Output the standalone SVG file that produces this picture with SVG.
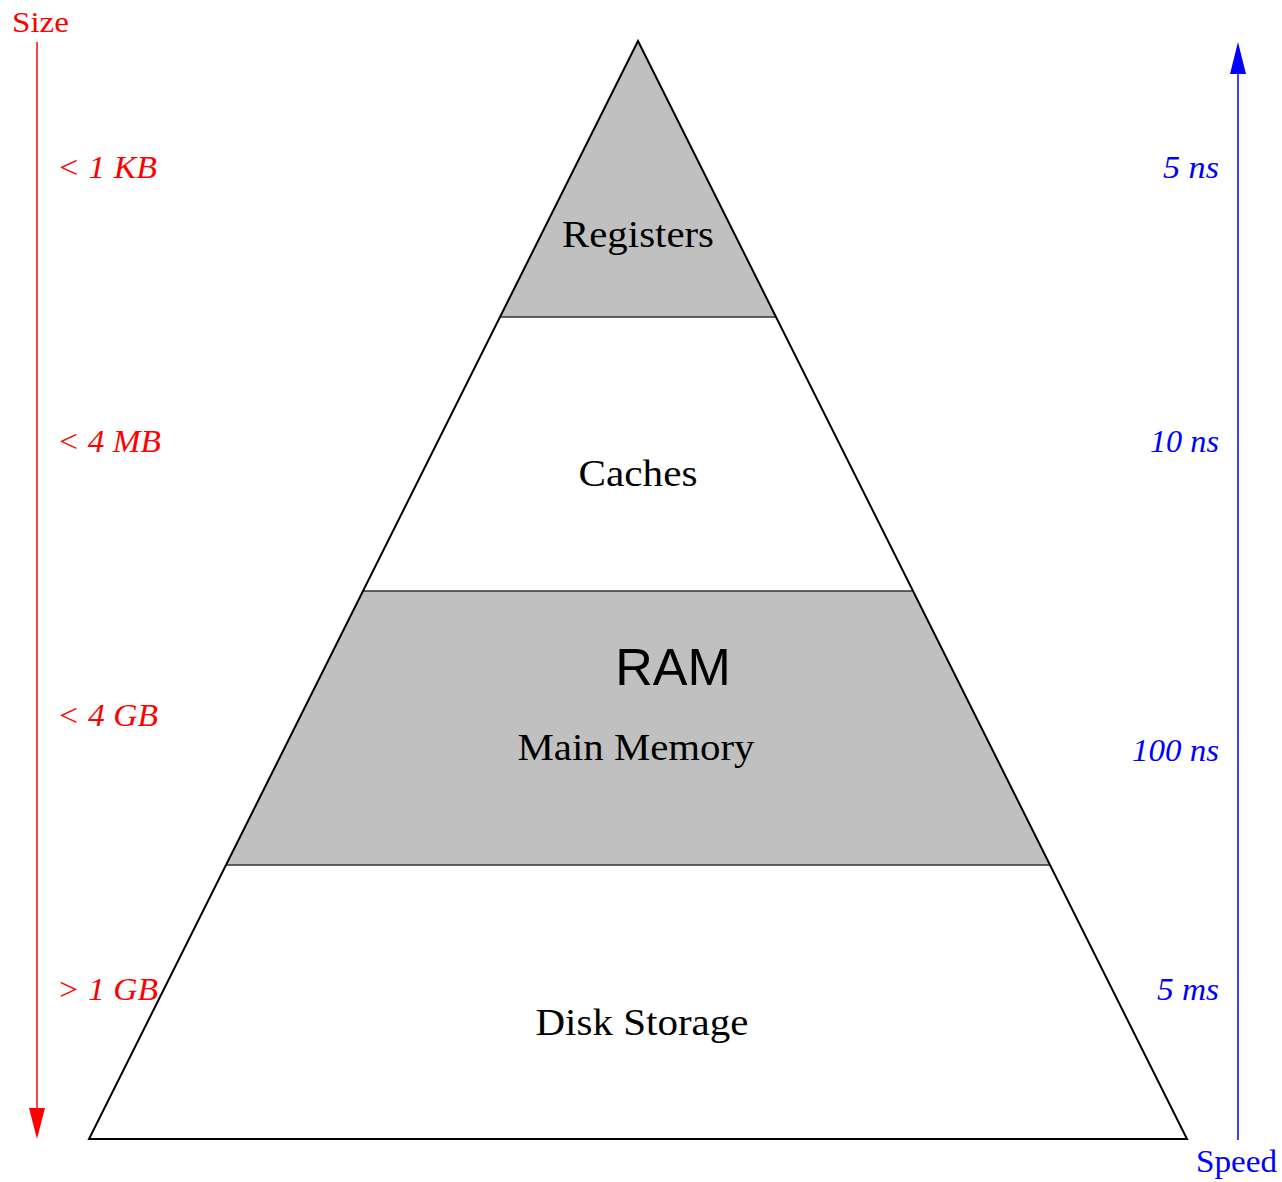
<svg xmlns="http://www.w3.org/2000/svg" width="1282" height="1182" viewBox="0 0 1282 1182">
<style>
.lbl{font-family:"Liberation Serif","DejaVu Serif",serif;font-size:37px;fill:#000;text-anchor:middle}
.sz{font-family:"Liberation Serif",serif;font-style:italic;font-size:31px;fill:#ff0000}
.sp{font-family:"Liberation Serif",serif;font-style:italic;font-size:31px;fill:#0000ff;text-anchor:end}
.edge{fill:none;stroke:#000;stroke-width:2}
.band{stroke:#333;stroke-width:1.5}
</style>
<rect width="1282" height="1182" fill="#fff"/>
<g id="registers">
<polygon points="638,41 776,317 500,317" fill="#c0c0c0"/>
<text class="lbl" x="638" y="247" textLength="152" lengthAdjust="spacingAndGlyphs">Registers</text>
</g>
<g id="caches">
<polygon points="500,317 776,317 913,591 363,591" fill="#fff"/>
<text class="lbl" x="638" y="486" textLength="119" lengthAdjust="spacingAndGlyphs">Caches</text>
</g>
<g id="main-memory">
<polygon points="363,591 913,591 1050,865 226,865" fill="#c0c0c0"/>
<text x="673" y="685" font-family="Liberation Sans,Arial,sans-serif" font-size="52" text-anchor="middle" fill="#000">RAM</text>
<text class="lbl" x="636" y="760" textLength="237" lengthAdjust="spacingAndGlyphs">Main Memory</text>
</g>
<g id="disk-storage">
<polygon points="226,865 1050,865 1187,1139 89,1139" fill="#fff"/>
<text class="lbl" x="642" y="1035" textLength="213" lengthAdjust="spacingAndGlyphs">Disk Storage</text>
</g>
<g id="pyramid-lines">
<line class="band" x1="500" y1="317" x2="776" y2="317"/>
<line class="band" x1="363" y1="591" x2="913" y2="591"/>
<line class="band" x1="226" y1="865" x2="1050" y2="865"/>
<polygon class="edge" points="638,41 1187,1139 89,1139"/>
</g>
<g id="connectors">
<line x1="37" y1="42" x2="37" y2="1109" stroke="#ff0000" stroke-width="1.5"/>
<path d="M29,1108 L45,1108 L37,1139 Z" fill="#ff0000"/>
<line x1="1238" y1="1140" x2="1238" y2="73" stroke="#0000ff" stroke-width="1.5"/>
<path d="M1238,42 L1246,74 L1230,74 Z" fill="#0000ff"/>
</g>
<g id="size-axis">
<text x="12" y="32" font-family="Liberation Serif,serif" font-size="29" fill="#ff0000" textLength="57" lengthAdjust="spacingAndGlyphs">Size</text>
<text class="sz" x="57" y="178" textLength="100" lengthAdjust="spacingAndGlyphs">&lt; 1 KB</text>
<text class="sz" x="57" y="452" textLength="104" lengthAdjust="spacingAndGlyphs">&lt; 4 MB</text>
<text class="sz" x="57" y="726" textLength="101" lengthAdjust="spacingAndGlyphs">&lt; 4 GB</text>
<text class="sz" x="57" y="1000" textLength="101" lengthAdjust="spacingAndGlyphs">&gt; 1 GB</text>
</g>
<g id="speed-axis">
<text x="1196" y="1172" font-family="Liberation Serif,serif" font-size="31" fill="#0000ff" textLength="81" lengthAdjust="spacingAndGlyphs">Speed</text>
<text class="sp" x="1219" y="178" textLength="56" lengthAdjust="spacingAndGlyphs">5 ns</text>
<text class="sp" x="1219" y="452" textLength="69" lengthAdjust="spacingAndGlyphs">10 ns</text>
<text class="sp" x="1219" y="761" textLength="87" lengthAdjust="spacingAndGlyphs">100 ns</text>
<text class="sp" x="1219" y="1000" textLength="62" lengthAdjust="spacingAndGlyphs">5 ms</text>
</g>
</svg>
